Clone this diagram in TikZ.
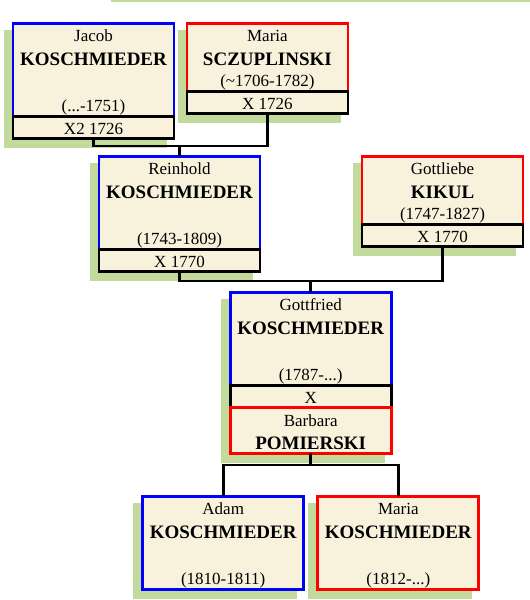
\documentclass[tikz,border=0pt]{standalone}
\usepackage{fontspec}
\setmainfont{Liberation Serif}
\usetikzlibrary{positioning,shadows}
\definecolor{boxfill}{RGB}{248,242,220}
\definecolor{shadowgreen}{RGB}{194,218,156}
\tikzset{
		box/.style={fill=boxfill, inner sep=0pt, outer sep=0pt,
			minimum width=161pt, anchor=north,
			drop shadow={shadow xshift=-8pt, shadow yshift=-8pt, opacity=1,
				fill=shadowgreen, draw=shadowgreen, line width=2.8pt},
			draw, line width=2.8pt},
		male/.style={box, draw=blue, minimum height=93pt},
		female/.style={box, draw=red, minimum height=93pt},
		shortbox/.style={minimum height=68.5pt},
		wed/.style={box, draw=black, minimum height=22pt, below=0pt of #1,
			font=\fontsize{17}{19}\selectfont, text height=14pt, text depth=0pt},
		given/.style={anchor=base, font=\fontsize{17}{19}\selectfont},
		surname/.style={anchor=base, font=\fontsize{19}{21}\selectfont\bfseries},
		years/.style={anchor=base, font=\fontsize{17}{19}\selectfont},
		link/.style={line width=2.8pt}
	}
% names inside a person box: box, given name, surname, years
\newcommand\famnames[4]{%
	\node[given] (#1given) at ([yshift=-18.5pt]#1.north) {#2};
	\node[surname] (#1sur) at ([yshift=-42pt]#1.north) {#3};
	\node[years] (#1years) at ([yshift=5pt]#1.south) {#4};
}

\begin{document}
\begin{tikzpicture}[x=1pt, y=-1pt] % one unit = one pixel of the chart, y going down
		\useasboundingbox (0,0) rectangle (530,600);
		\fill[shadowgreen] (111,0) rectangle (530,1.5); % edge of a shadow above

		% grandparents
		\node[male] (jacob) at (93.5,23.2) {};
		\famnames{jacob}{Jacob}{KOSCHMIEDER}{(...-1751)}
		\node[wed=jacob] (jacobwed) {X2 1726};
		\node[female, shortbox] (marias) at (267.4,23.2) {};
		\famnames{marias}{Maria}{SCZUPLINSKI}{(\textasciitilde1706-1782)}
		\node[wed=marias] (mariaswed) {X 1726};

		% parents
		\node[male] (reinhold) at (179.5,156.2) {};
		\famnames{reinhold}{Reinhold}{KOSCHMIEDER}{(1743-1809)}
		\node[wed=reinhold] (reinholdwed) {X 1770};
		\node[female, shortbox] (gottliebe) at (442.5,156.2) {};
		\famnames{gottliebe}{Gottliebe}{KIKUL}{(1747-1827)}
		\node[wed=gottliebe] (gottliebewed) {X 1770};

		% Gottfried and his wife
		\node[male] (gottfried) at (310.7,292.2) {};
		\famnames{gottfried}{Gottfried}{KOSCHMIEDER}{(1787-...)}
		\node[wed=gottfried] (gottfriedwed) {X};
		\node[female, minimum height=46pt, below=0pt of gottfriedwed] (barbara) {};
		\node[given] (barbaragiven) at ([yshift=-19pt]barbara.north) {Barbara};
		\node[surname] (barbarasur) at ([yshift=-42.5pt]barbara.north) {POMIERSKI};

		% children
		\node[male] (adam) at (223.2,496.2) {};
		\famnames{adam}{Adam}{KOSCHMIEDER}{(1810-1811)}
		\node[female] (mariak) at (398.3,496.2) {};
		\famnames{mariak}{Maria}{KOSCHMIEDER}{(1812-...)}

		% family lines
		\coordinate (u1) at (179.5,146);
		\coordinate (u2) at (310.7,281);
		\coordinate (u3) at (310.7,465);
		\draw[link] (jacobwed.south) |- (u1) -| (mariaswed.south);
		\draw[link] (u1) -- (reinhold.north);
		\draw[link] (reinholdwed.south) |- (u2) -| (gottliebewed.south);
		\draw[link] (u2) -- (gottfried.north);
		\draw[link] (barbara.south) -- (u3);
		\draw[link] (adam.north) |- (u3) -| (mariak.north);
	\end{tikzpicture}
\end{document}
